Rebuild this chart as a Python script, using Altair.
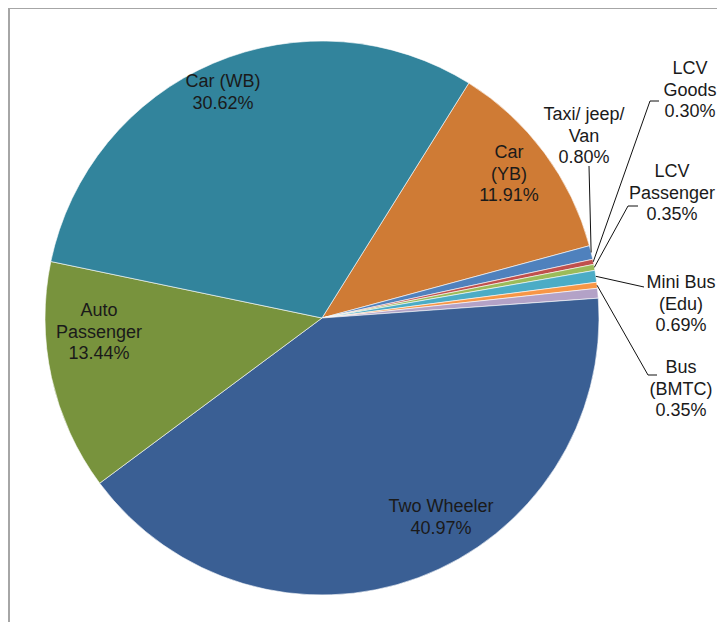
import math
import altair as alt
import pandas as pd

# ---- data ----
categories = ["Car (YB)", "Taxi/ jeep/ Van", "LCV Goods", "LCV Passenger",
              "Mini Bus (Edu)", "Bus (BMTC)", "Others", "Two Wheeler",
              "Auto Passenger", "Car (WB)"]
shares = [11.91, 0.80, 0.30, 0.35, 0.69, 0.35, 0.57, 40.97, 13.44, 30.62]
label_lines = [["Car", "(YB)"], ["Taxi/ jeep/", "Van"], ["LCV", "Goods"],
               ["LCV", "Passenger"], ["Mini Bus", "(Edu)"], ["Bus", "(BMTC)"],
               [], ["Two Wheeler"], ["Auto", "Passenger"], ["Car (WB)"]]
colors = ["#CF7B35", "#4F81BD", "#C0504D", "#9BBB59", "#4BACC6", "#F79646",
          "#B3A2C7", "#3A5F94", "#78933D", "#32849C"]

# ---- layout (pixels) ----
W, H = 709, 614
CX, CY, R = 314, 310, 277
START_DEG = 32.0
FONT = "Liberation Sans"
FS = 18
LH = 21.5
TEXT_COLOR = "#1a1a1a"

# label centre x and first-line y (page coords; view = page - 8)
label_pos = {
    "Car (WB)": (223, 82), "Car (YB)": (509, 153), "Auto Passenger": (99, 311),
    "Two Wheeler": (441, 507), "Taxi/ jeep/ Van": (584, 115),
    "LCV Goods": (690, 69), "LCV Passenger": (672, 172),
    "Mini Bus (Edu)": (681, 283), "Bus (BMTC)": (681, 368),
}
# leader line bend points (page coords) after the slice edge point
leader_pts = {
    "Taxi/ jeep/ Van": [(589, 166)],
    "LCV Goods": [(650, 101), (659, 101)],
    "LCV Passenger": [(628, 206), (638, 206)],
    "Mini Bus (Edu)": [(644, 287)],
    "Bus (BMTC)": [(648, 375), (657, 375)],
}

df = pd.DataFrame({"category": categories, "share": shares,
                   "idx": list(range(len(categories)))})

start = math.radians(START_DEG)
arcs = alt.Chart(df).mark_arc(outerRadius=R, stroke="white", strokeWidth=0.6).encode(
    theta=alt.Theta("share:Q", stack=True,
                    scale=alt.Scale(range=[start, start + 2 * math.pi])),
    color=alt.Color("category:N", scale=alt.Scale(domain=categories, range=colors),
                    legend=None),
    order=alt.Order("idx:Q"),
    x=alt.value(CX), y=alt.value(CY),
)

lab_rows = []
cum = 0.0
total = sum(shares)
mid_angle = {}
for cat, s, lines in zip(categories, shares, label_lines):
    mid_angle[cat] = START_DEG + (cum + s / 2) / total * 360.0
    cum += s
    if not lines:
        continue
    px, py = label_pos[cat]
    lab_rows.append({"category": cat, "x": px - 8, "y": py - 8,
                     "text": "\n".join(lines + [f"{s:.2f}%"])})
lab_df = pd.DataFrame(lab_rows)

labels = alt.Chart(lab_df).mark_text(
    font=FONT, fontSize=FS, color=TEXT_COLOR, align="center", baseline="middle",
    lineBreak="\n", lineHeight=LH,
).encode(x=alt.X("x:Q", scale=None), y=alt.Y("y:Q", scale=None), text="text:N")

line_rows = []
for cat, pts in leader_pts.items():
    a = math.radians(mid_angle[cat])
    ex, ey = CX + R * math.sin(a), CY - R * math.cos(a)
    seq = [(ex, ey)] + [(px - 8, py - 8) for px, py in pts]
    for k, (x, y) in enumerate(seq):
        line_rows.append({"category": cat, "x": x, "y": y, "k": k})
line_df = pd.DataFrame(line_rows)

leaders = alt.Chart(line_df).mark_line(color="#111111", strokeWidth=1).encode(
    x=alt.X("x:Q", scale=None), y=alt.Y("y:Q", scale=None),
    detail="category:N", order="k:Q",
)

frame_df = pd.DataFrame({"d": [0]})
frame_left = alt.Chart(frame_df).mark_rule(color="#A6A6A6", strokeWidth=2).encode(
    x=alt.value(1))
frame_top = alt.Chart(frame_df).mark_rule(color="#A6A6A6", strokeWidth=2).encode(
    y=alt.value(0))

chart = alt.layer(frame_left, frame_top, arcs, leaders, labels).properties(
    width=W, height=H, padding=0, autosize=alt.AutoSizeParams(type="none"),
).configure_view(stroke=None)

chart.save("out.html", embed_options={"renderer": "svg", "actions": False})
